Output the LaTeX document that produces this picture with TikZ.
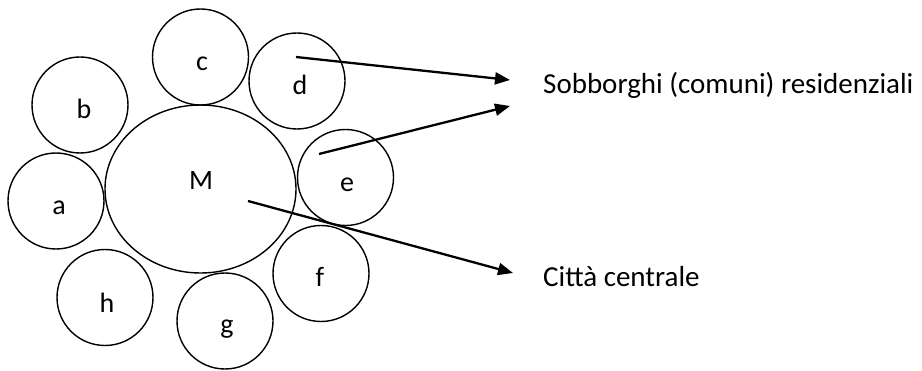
\documentclass[tikz,border=0pt]{standalone}
\usepackage{fontspec}
\setmainfont{Carlito}
\usetikzlibrary{arrows.meta,shapes.geometric}
\begin{document}
\begin{tikzpicture}[x=1pt,y=1pt,
  circ/.style={draw,circle,line width=1.4pt,minimum size=96pt,inner sep=0pt},
  lab/.style={anchor=base,inner sep=0pt,font=\fontsize{28}{32}\selectfont},
  txt/.style={anchor=base west,inner sep=0pt,font=\fontsize{29}{32}\selectfont},
  arr/.style={line width=2.3pt,-{Triangle[length=15pt,width=12pt]}}]
\useasboundingbox (0,0) rectangle (922,370);
% satellites
\node[circ] (c) at (200.5,313) {};
\node[circ] (d) at (297,289) {};
\node[circ] (b) at (80,265) {};
\node[circ] (a) at (56,169) {};
\node[circ] (e) at (345.5,192.5) {};
\node[circ] (f) at (321,96.5) {};
\node[circ] (h) at (105,72.5) {};
\node[circ] (g) at (225,49) {};
\node[draw,ellipse,line width=1.4pt,minimum width=191pt,minimum height=168pt,inner sep=0pt] (M) at (200.5,181) {};
% letters
\node[lab] (lc) at (202,299) {c};
\node[lab] (ld) at (300,275) {d};
\node[lab] (lb) at (84,251) {b};
\node[lab] (la) at (59,155) {a};
\node[lab] (lM) at (201,180) {M};
\node[lab] (le) at (347,178) {e};
\node[lab] (lf) at (320,83) {f};
\node[lab] (lh) at (107,58) {h};
\node[lab] (lg) at (227,37) {g};
% texts
\node[txt] (sob) at (543,276) {Sobborghi (comuni) residenziali};
\node[txt] (cit) at (543,83) {Città centrale};
% arrows
\coordinate (sd) at (296,313);
\coordinate (se) at (319,216);
\coordinate (sM) at (248,169);
\coordinate (td) at (510,290);
\coordinate (te) at (510,264);
\coordinate (tM) at (513,97);
\draw[arr] (sd) -- (td);
\draw[arr] (se) -- (te);
\draw[arr] (sM) -- (tM);
\end{tikzpicture}
\end{document}
